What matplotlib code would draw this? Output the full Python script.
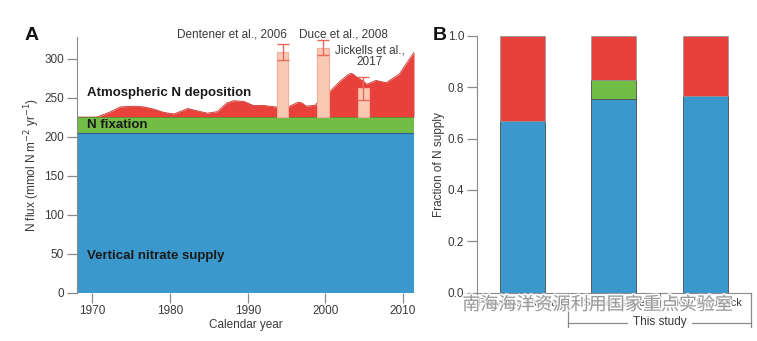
import matplotlib
matplotlib.use("Agg")
import matplotlib.pyplot as plt
import matplotlib.patheffects as pe

plt.rcParams["font.family"] = ["Liberation Sans", "DejaVu Sans"]

# Panel A data
years = [1968.0, 1970.6, 1972.4, 1973.6, 1975.4, 1976.7, 1978.0, 1979.2, 1980.5,
         1981.8, 1982.3, 1983.5, 1984.8, 1986.1, 1987.3, 1988.2, 1989.5, 1990.7,
         1992.0, 1993.5, 1995.4, 1996.5, 1997.0, 1997.5, 1998.6, 1999.5, 2000.6,
         2001.9, 2003.0, 2003.4, 2004.2, 2004.9, 2005.3, 2006.5, 2007.8, 2009.5,
         2011.4]
total_flux = [225, 225, 232, 238, 239, 238, 235, 231, 229,
              234, 236, 233, 230, 232, 243, 246, 245, 240,
              240, 238, 239, 244, 243, 239, 240, 248, 258,
              271, 280, 281, 275, 271, 267, 272, 269, 280,
              308]
nitrate_supply = 204
n_fixation_top = 225

ref_names = ["Dentener et al., 2006", "Duce et al., 2008", "Jickells et al.,\n2017"]
ref_years = [1994.5, 1999.7, 2004.9]
ref_values = [308, 314, 262]
ref_errors = [10, 10, 15]

# Panel B data
categories = ["Previous estimate", "Steady state", "Slow feedback"]
frac_nitrate = [0.669, 0.752, 0.765]
frac_fixation = [0.0, 0.076, 0.0]

blue = "#3b98cc"
green = "#72bd45"
red = "#e8403a"
pink = "#f9c9b4"
tick_gray = "#8a8a8a"
label_gray = "#3a3a3a"

fig = plt.figure(figsize=(7.57, 3.41), dpi=100)
axA = fig.add_axes([0.1013, 0.1416, 0.4456, 0.7508])
axB = fig.add_axes([0.6297, 0.1416, 0.3624, 0.7537])

# ---- Panel A ----
axA.fill_between(years, 0, nitrate_supply, color=blue, lw=0)
axA.fill_between(years, nitrate_supply, n_fixation_top, color=green, lw=0)
axA.fill_between(years, n_fixation_top, total_flux, color=red, lw=0)
axA.plot(years, total_flux, color="#c8302a", lw=0.6)
axA.axhline(nitrate_supply, color="#2b5f8a", lw=0.8)
axA.axhline(n_fixation_top, color="#4f8f2c", lw=0.5)

for name, yr, val, err in zip(ref_names, ref_years, ref_values, ref_errors):
    axA.bar(yr, val - n_fixation_top, bottom=n_fixation_top, width=1.5,
            color=pink, edgecolor="#f4ad98", lw=0.8, zorder=3)
    axA.errorbar(yr, val, yerr=err, color="#e86a5e", lw=1, capsize=4, zorder=4)

axA.text(1988.0, 331, ref_names[0], ha="center", va="center", fontsize=8.5,
         color=label_gray, clip_on=False)
axA.text(2002.3, 331, ref_names[1], ha="center", va="center", fontsize=8.5,
         color=label_gray, clip_on=False)
axA.text(2005.7, 303, ref_names[2], ha="center", va="center", fontsize=8.5,
         color=label_gray, linespacing=1.0)

axA.text(1969.3, 256, "Atmospheric N deposition", fontsize=9.5, fontweight="bold",
         color="#1a1a1a", va="center")
axA.text(1969.3, 215, "N fixation", fontsize=9.5, fontweight="bold",
         color="#1a1a1a", va="center")
axA.text(1969.3, 47, "Vertical nitrate supply", fontsize=9.5, fontweight="bold",
         color="#1a1a1a", va="center")

axA.set_xlim(1968, 2011.4)
axA.set_ylim(0, 328)
axA.set_xticks([1970, 1980, 1990, 2000, 2010])
axA.set_yticks([0, 50, 100, 150, 200, 250, 300])
axA.set_xlabel("Calendar year", fontsize=8.5, color=label_gray, labelpad=1)
axA.set_ylabel("N flux (mmol N m$^{-2}$ yr$^{-1}$)", fontsize=8.5,
               color=label_gray, labelpad=2)
for s in ["top", "right", "bottom"]:
    axA.spines[s].set_visible(False)
axA.spines["left"].set_color(tick_gray)
axA.tick_params(length=7, width=0.9, color=tick_gray, labelsize=8.5,
                labelcolor=label_gray, pad=2)
fig.text(0.033, 0.895, "A", fontsize=14, fontweight="bold", color="#111",
         va="center")

# ---- Panel B ----
xpos = list(range(len(categories)))
frac_dep = [1 - a - b for a, b in zip(frac_nitrate, frac_fixation)]
bot2 = [a + b for a, b in zip(frac_nitrate, frac_fixation)]
axB.bar(xpos, frac_nitrate, width=0.49, color=blue, edgecolor="#4a4a4a", lw=0.6)
axB.bar(xpos, frac_fixation, bottom=frac_nitrate, width=0.49, color=green,
        edgecolor="#4a4a4a", lw=0.6)
axB.bar(xpos, frac_dep, bottom=bot2, width=0.49, color=red,
        edgecolor="#9a9a9a", lw=0.6)

axB.set_xlim(-0.5, 2.5)
axB.set_ylim(0, 1.0)
axB.set_yticks([0.0, 0.2, 0.4, 0.6, 0.8, 1.0])
axB.set_yticklabels(["0.0", "0.2", "0.4", "0.6", "0.8", "1.0"])
axB.set_xticks([])
axB.set_ylabel("Fraction of N supply", fontsize=8.5, color=label_gray, labelpad=2)
for s in ["top", "right"]:
    axB.spines[s].set_visible(False)
axB.spines["left"].set_color(tick_gray)
axB.spines["bottom"].set_color(tick_gray)
axB.tick_params(length=7, width=0.9, color=tick_gray, labelsize=8.5,
                labelcolor=label_gray, pad=2)

# category label boxes below the axis
box_lines = dict(color=tick_gray, lw=0.9, clip_on=False)
axB.plot([-0.5, -0.5], [0, -0.07], **box_lines)
axB.plot([1.5, 1.5], [0, -0.07], **box_lines)
axB.plot([0.5, 0.5], [0, -0.135], **box_lines)
axB.plot([2.5, 2.5], [0, -0.135], **box_lines)
axB.plot([0.5, 1.14], [-0.117, -0.117], **box_lines)
axB.plot([1.86, 2.5], [-0.117, -0.117], **box_lines)
for x, name in zip(xpos, categories):
    axB.text(x, -0.04, name, ha="center", va="center", fontsize=8,
             color=label_gray, clip_on=False)
axB.text(1.5, -0.113, "This study", ha="center", va="center", fontsize=8.5,
         color=label_gray, clip_on=False)
fig.text(0.572, 0.895, "B", fontsize=14, fontweight="bold", color="#111",
         va="center")

# watermark
fig.text(0.789, 0.106, "南海海洋资源利用国家重点实验室", ha="center", va="center",
         fontsize=13, color="#9a9a9a", family=["Noto Sans CJK SC", "DejaVu Sans"],
         path_effects=[pe.withStroke(linewidth=2.5, foreground="white", alpha=0.75)])

fig.savefig("out.png", dpi=100)
